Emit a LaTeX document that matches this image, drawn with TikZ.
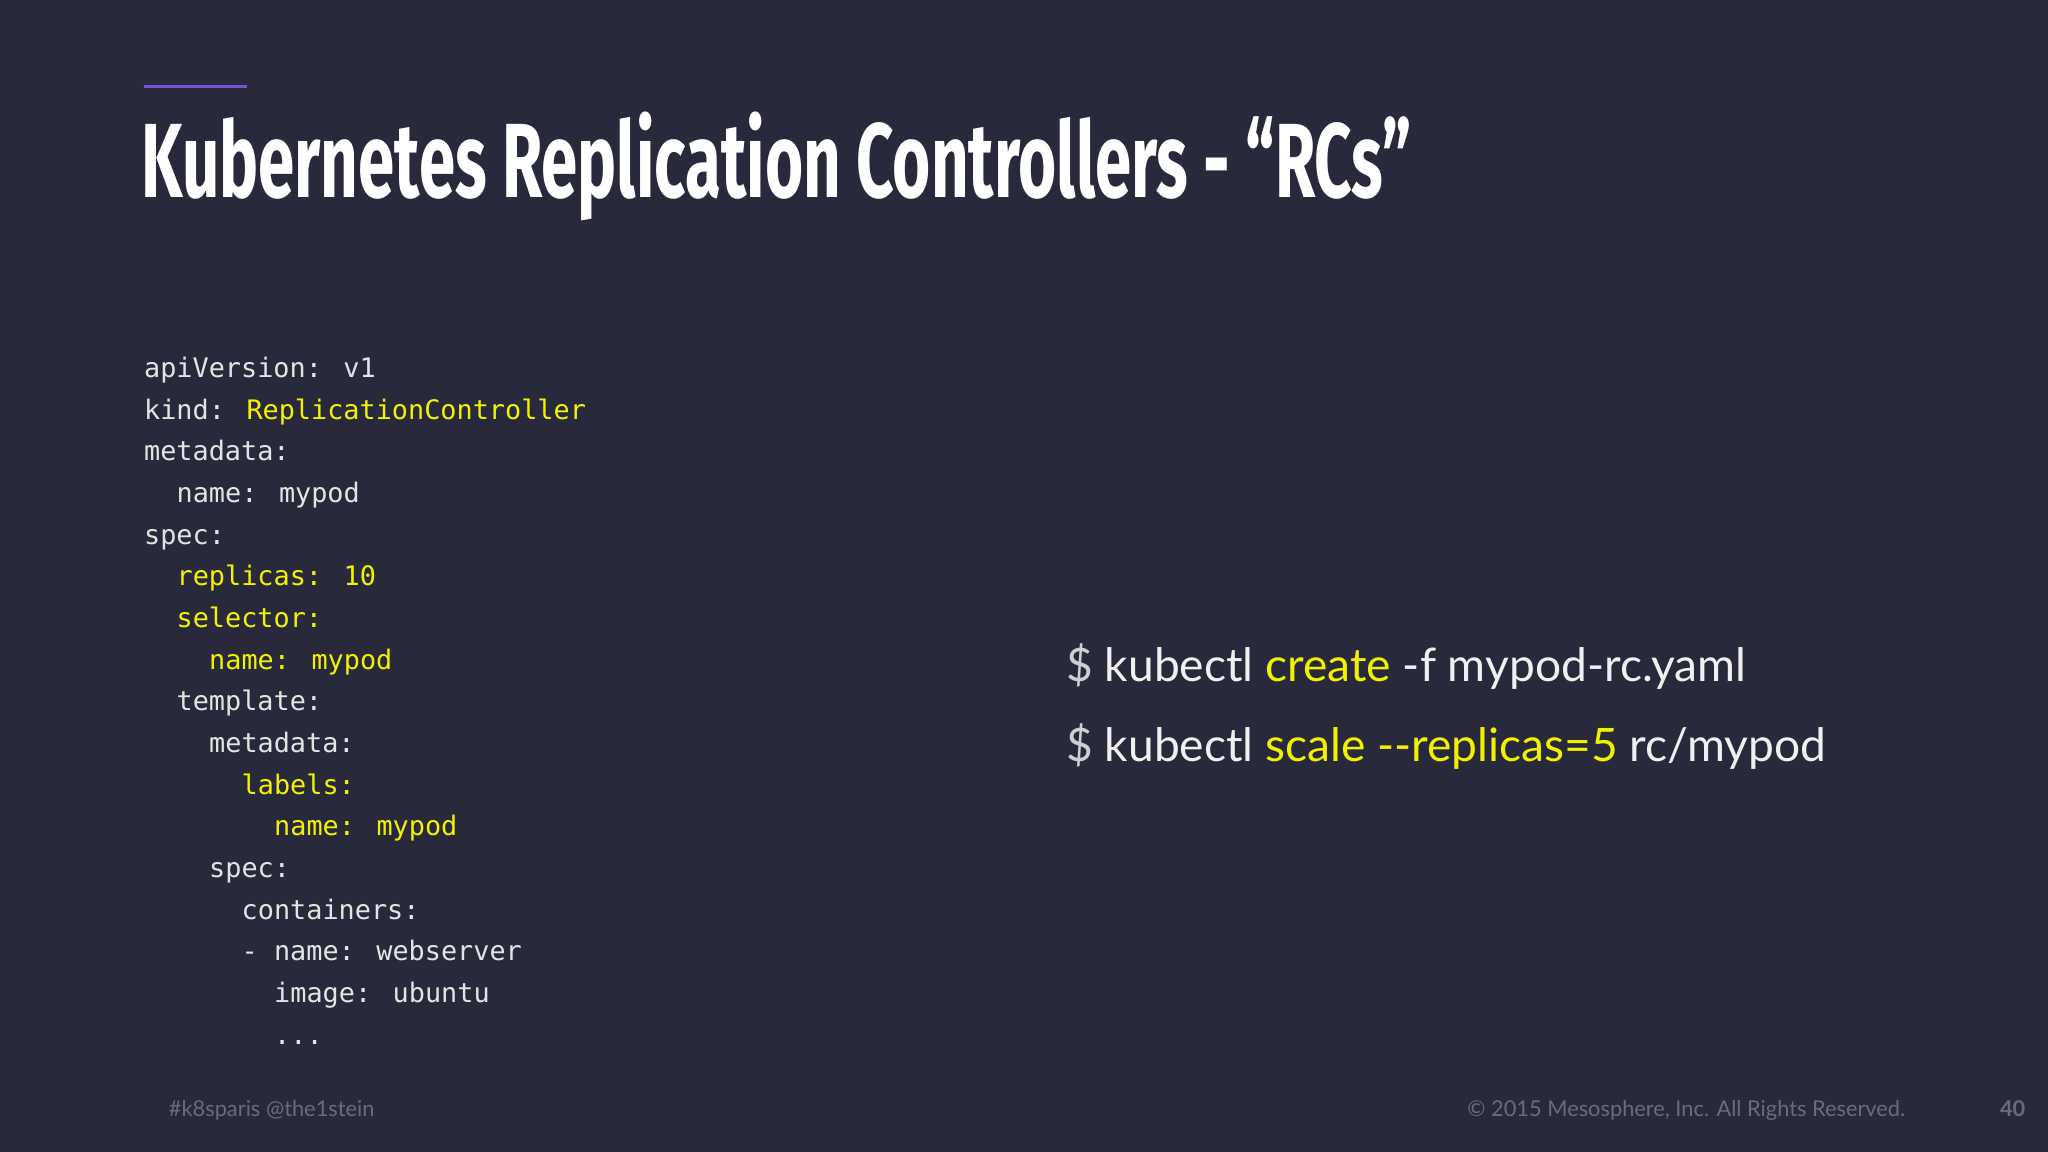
\documentclass[tikz,border=0pt]{standalone}
\usepackage{fontspec}
\setmainfont{Lato}
\newfontfamily\codefont{DejaVu Sans Mono}
\newfontfamily\titlefont{Fira Sans}
\newfontfamily\cmdfont{Lato}
\definecolor{bg}{HTML}{282A3B}
\definecolor{cw}{HTML}{E4E4E4}
\definecolor{cy}{HTML}{F2F200}
\definecolor{cg}{HTML}{CFCFD2}
\definecolor{cmdw}{HTML}{F0F0F0}
\definecolor{foot}{HTML}{6A6C7C}
\definecolor{purp}{HTML}{7B4FD6}
\begin{document}
\begin{tikzpicture}[x=0.02cm,y=-0.02cm,
  code/.style={anchor=base west,inner sep=0,font=\codefont\fontsize{11.7}{12}\selectfont,text=cw},
  cmd/.style={anchor=base west,inner sep=0,font=\cmdfont\fontsize{20.1}{21}\selectfont,text=cg},
  footer/.style={anchor=base west,inner sep=0,font=\fontsize{9.5}{10}\selectfont,text=foot}]
\fill[bg] (0,0) rectangle (1568,882);
\useasboundingbox (0,0) rectangle (1568,882);
\draw[purp,line width=1.2pt] (110,66) -- (189,66);
\node[anchor=base west,inner sep=0,text=white] (title) at (108,151)
  {\scalebox{0.62}[1]{\titlefont\bfseries\fontsize{46}{50}\selectfont Kubernetes Replication Controllers - “RCs”}};
\def\cw{12.45}
\def\L#1#2#3{\node[code] (l#1) at ({110+\cw*#2},{289+31.9*#1}) {#3};}
\L{0}{0}{apiVersion: v1}
\L{1}{0}{kind: \textcolor{cy}{ReplicationController}}
\L{2}{0}{metadata:}
\L{3}{2}{name: mypod}
\L{4}{0}{spec:}
\L{5}{2}{\textcolor{cy}{replicas: 10}}
\L{6}{2}{\textcolor{cy}{selector:}}
\L{7}{4}{\textcolor{cy}{name: mypod}}
\L{8}{2}{template:}
\L{9}{4}{metadata:}
\L{10}{6}{\textcolor{cy}{labels:}}
\L{11}{8}{\textcolor{cy}{name: mypod}}
\L{12}{4}{spec:}
\L{13}{6}{containers:}
\L{14}{6}{- name: webserver}
\L{15}{8}{image: ubuntu}
\L{16}{8}{...}
\node[cmd] (c1) at (816,522) {\$ \textcolor{cmdw}{kubectl} \textcolor{cy}{create} \textcolor{cmdw}{-f mypod-rc.yaml}};
\node[cmd] (c2) at (816,583) {\$ \textcolor{cmdw}{kubectl} \textcolor{cy}{scale --replicas=5} \textcolor{cmdw}{rc/mypod}};
\node[footer] (f1) at (129,855) {\#k8sparis @the1stein};
\node[footer,anchor=base east] (f2) at (1459,855) {© 2015 Mesosphere, Inc. All Rights Reserved.};
\node[footer,anchor=base east,font=\bfseries\fontsize{9.5}{10}\selectfont] (f3) at (1551,855) {40};
\end{tikzpicture}
\end{document}
